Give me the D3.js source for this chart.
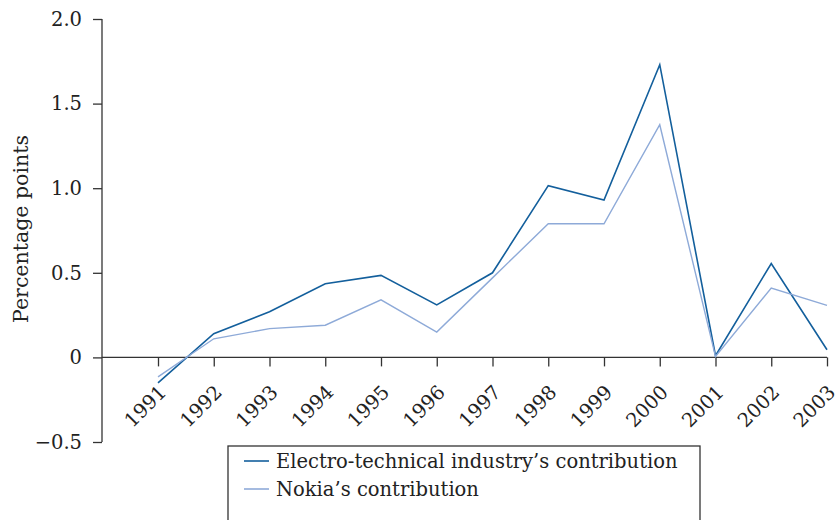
<!DOCTYPE html>
<html>
<head>
<meta charset="utf-8">
<script src="https://cdn.jsdelivr.net/npm/d3@7"></script>
<style>
  body { margin: 0; background: #fff; }
  svg text { font-family: "DejaVu Serif", serif; fill: #222; }
</style>
</head>
<body>
<div id="vis-container"></div>
<script>
// years on the x axis
var years = [1991, 1992, 1993, 1994, 1995, 1996, 1997, 1998, 1999, 2000, 2001, 2002, 2003];
// contributions, percentage points
var electro = [-0.15, 0.14, 0.27, 0.435, 0.485, 0.31, 0.50, 1.015, 0.93, 1.73, 0.01, 0.555, 0.045];
var nokia = [-0.115, 0.11, 0.17, 0.19, 0.34, 0.15, 0.47, 0.79, 0.79, 1.375, 0.005, 0.41, 0.307];
var yTicks = [-0.5, 0, 0.5, 1.0, 1.5, 2.0];
var seriesNames = ["Electro-technical industry\u2019s contribution", "Nokia\u2019s contribution"];
var seriesColors = ["#135f9c", "#8eaad8"];

var width = 835;
var height = 520;
var fontSize = 19.5;

var svg = d3.select("#vis-container")
	.append("svg")
	.attr("width", width)
	.attr("height", height);

var x = d3.scaleLinear().domain([1991, 2003]).range([158, 827]);
var y = d3.scaleLinear().domain([-0.5, 2.0]).range([442, 19]);

// y axis
svg.append("g")
	.attr("transform", "translate(102,0)")
	.call(d3.axisLeft(y).tickValues(yTicks).tickSize(9).tickPadding(11)
		.tickFormat(function(d) { return d === 0 ? "0" : d3.format(".1f")(d).replace("-", "\u2212"); }))
	.call(function(g) {
		g.select(".domain").attr("stroke", "#333").attr("stroke-width", 1.3).attr("d", "M0," + y(-0.5) + "V" + y(2.0));
		g.selectAll(".tick line").attr("stroke", "#333").attr("stroke-width", 1.3);
		g.selectAll(".tick text").attr("font-size", fontSize);
	});

// x axis at zero
svg.append("g")
	.attr("transform", "translate(0," + y(0) + ")")
	.call(d3.axisBottom(x).tickValues(years).tickSize(9).tickFormat(d3.format("d")))
	.call(function(g) {
		g.select(".domain").attr("stroke", "#333").attr("stroke-width", 1.3).attr("d", "M102,0H" + x(2003));
		g.selectAll(".tick line").attr("stroke", "#333").attr("stroke-width", 1.3);
		g.selectAll(".tick text")
			.attr("font-size", fontSize)
			.attr("text-anchor", "end")
			.attr("y", 0)
			.attr("dy", 0)
			.attr("transform", "translate(9,36) rotate(-45)");
	});

// axis title
svg.append("text")
	.attr("transform", "translate(28,229) rotate(-90)")
	.attr("text-anchor", "middle")
	.attr("font-size", 20.5)
	.text("Percentage points");

// lines
var line = d3.line()
	.x(function(d, i) { return x(years[i]); })
	.y(function(d) { return y(d); });

[electro, nokia].forEach(function(s, i) {
	svg.append("path")
		.attr("d", line(s))
		.attr("fill", "none")
		.attr("stroke", seriesColors[i])
		.attr("stroke-width", i === 0 ? 1.6 : 1.4);
});

// legend
var legend = svg.append("g");
legend.append("rect")
	.attr("x", 228).attr("y", 446)
	.attr("width", 472).attr("height", 90)
	.attr("fill", "none")
	.attr("stroke", "#333")
	.attr("stroke-width", 1.3);

seriesNames.forEach(function(name, i) {
	var ly = 461 + i * 28;
	legend.append("line")
		.attr("x1", 244).attr("x2", 269)
		.attr("y1", ly).attr("y2", ly)
		.attr("stroke", seriesColors[i])
		.attr("stroke-width", 1.6);
	legend.append("text")
		.attr("x", 276).attr("y", ly)
		.attr("dy", "0.35em")
		.attr("font-size", fontSize)
		.text(name);
});
</script>
</body>
</html>
